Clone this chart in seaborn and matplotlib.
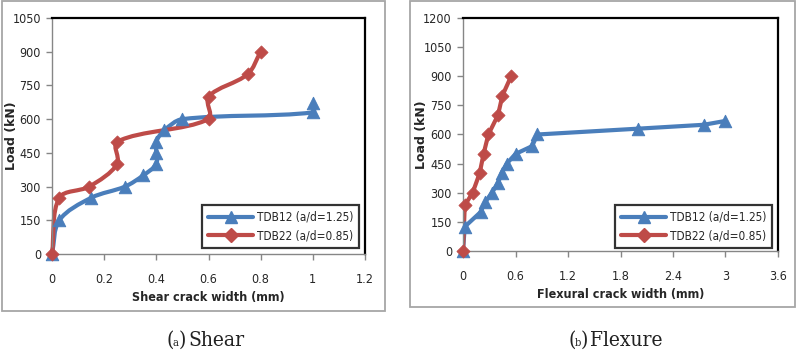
import matplotlib
matplotlib.use("Agg")
import matplotlib.pyplot as plt
import seaborn as sns
import numpy as np
from matplotlib.path import Path
from matplotlib.patches import PathPatch, Rectangle
from matplotlib.lines import Line2D

# SHEAR CRACK WIDTH (mm) vs LOAD (kN)
shear_tdb12_w = [0, 0.028, 0.15, 0.28, 0.35, 0.40, 0.40, 0.40, 0.43, 0.50, 1.0, 1.0]
shear_tdb12_load = [0, 150, 250, 300, 350, 400, 450, 500, 550, 600, 630, 670]
shear_tdb22_w = [0, 0.028, 0.143, 0.25, 0.25, 0.60, 0.60, 0.75, 0.80]
shear_tdb22_load = [0, 250, 300, 400, 500, 600, 700, 800, 900]

# FLEXURAL CRACK WIDTH (mm) vs LOAD (kN)
flex_tdb12_w = [0, 0.02, 0.2, 0.25, 0.33, 0.40, 0.44, 0.50, 0.60, 0.79, 0.85, 2.0, 2.75, 3.0]
flex_tdb12_load = [0, 125, 200, 250, 300, 350, 400, 450, 500, 540, 600, 630, 650, 670]
flex_tdb22_w = [0, 0.02, 0.11, 0.19, 0.235, 0.29, 0.40, 0.45, 0.55]
flex_tdb22_load = [0, 235, 300, 400, 500, 600, 700, 800, 900]

labels = ["TDB12 (a/d=1.25)", "TDB22 (a/d=0.85)"]
BLUE = "#4A7EBB"
RED = "#BE4B48"

sns.set_theme(style="white")
plt.rcParams["font.family"] = ["DejaVu Sans"]
plt.rcParams["font.stretch"] = "condensed"
FS = 9


def smooth_path(xs, ys, sx, sy):
    # excel-like smoothed line: chord-scaled catmull-rom -> cubic bezier
    # (sx, sy = data units -> approx pixels, only used for chord lengths)
    p = np.column_stack([xs, ys]).astype(float)
    ext = np.vstack([p[0], p, p[-1]])
    scale = np.array([sx, sy])
    dist = lambda a, b: np.hypot(*((b - a) * scale)) + 1e-9
    verts, codes = [p[0]], [Path.MOVETO]
    for i in range(len(p) - 1):
        p0, p1, p2, p3 = ext[i], ext[i + 1], ext[i + 2], ext[i + 3]
        d01, d12, d23 = dist(p0, p1), dist(p1, p2), dist(p2, p3)
        c1 = p1 + (p2 - p0) * d12 / (d01 + d12) / 3
        c2 = p2 - (p3 - p1) * d12 / (d12 + d23) / 3
        verts += [c1, c2, p2]
        codes += [Path.CURVE4] * 3
    return Path(verts, codes)


def style_axes(ax, xmax, xstep, ymax, ystep, xlabel, ylab_x):
    ax.set_xlim(0, xmax)
    ax.set_ylim(0, ymax)
    xt = np.round(np.arange(0, xmax + xstep / 2, xstep), 2)
    yt = np.arange(0, ymax + ystep / 2, ystep)
    ax.set_xticks(xt)
    ax.set_xticklabels([f"{v:g}" for v in xt])
    ax.set_yticks(yt)
    ax.set_yticklabels([f"{v:g}" for v in yt])
    ax.tick_params(axis="x", direction="out", length=4, width=1, color="#868686",
                   labelsize=FS, pad=10, bottom=True)
    ax.tick_params(axis="y", direction="out", length=4, width=1, color="#868686",
                   labelsize=FS, pad=4, left=True)
    for s in ["left", "bottom"]:
        ax.spines[s].set_color("#868686")
        ax.spines[s].set_linewidth(1)
    for s in ["top", "right"]:
        ax.spines[s].set_color("black")
        ax.spines[s].set_linewidth(1.6)
    ax.set_xlabel(xlabel, fontsize=9, fontweight="bold", labelpad=3)
    ax.set_ylabel("Load (kN)", fontsize=9, fontweight="bold", fontstretch="normal")
    ax.yaxis.set_label_coords(ylab_x, 0.5)
    ax.grid(False)


def add_legend(ax, anchor):
    handles = [
        Line2D([], [], color=BLUE, lw=3, marker="^", markersize=9),
        Line2D([], [], color=RED, lw=3, marker="D", markersize=7),
    ]
    leg = ax.legend(handles, labels, loc="lower right", bbox_to_anchor=anchor,
                    fontsize=8.5, frameon=True, fancybox=False, handlelength=3.8,
                    borderpad=0.5, labelspacing=0.45, handletextpad=0.3,
                    borderaxespad=0)
    leg.get_frame().set_edgecolor("black")
    leg.get_frame().set_linewidth(1.6)


fig = plt.figure(figsize=(8, 3.52), dpi=100)
ax1 = fig.add_axes([52 / 800, 1 - 254 / 352, 313 / 800, 236 / 352])
ax2 = fig.add_axes([463 / 800, 1 - 251 / 352, 315 / 800, 233 / 352])

# SHEAR (smoothed lines)
for xs, ys, c, m, s in [(shear_tdb12_w, shear_tdb12_load, BLUE, "^", 80),
                        (shear_tdb22_w, shear_tdb22_load, RED, "D", 45)]:
    ax1.add_patch(PathPatch(smooth_path(xs, ys, 313 / 1.2, 236 / 1050),
                            facecolor="none", edgecolor=c, lw=3, zorder=2,
                            clip_on=False))
    sns.scatterplot(x=xs, y=ys, marker=m, s=s, color=c, edgecolor=c,
                    ax=ax1, zorder=3, clip_on=False, legend=False)
style_axes(ax1, 1.2, 0.2, 1050, 150, "Shear crack width (mm)", -0.109)
add_legend(ax1, (0.981, 0.025))

# FLEXURE (straight lines)
for xs, ys, c, m, s in [(flex_tdb12_w, flex_tdb12_load, BLUE, "^", 80),
                        (flex_tdb22_w, flex_tdb22_load, RED, "D", 45)]:
    sns.lineplot(x=xs, y=ys, sort=False, estimator=None, color=c, lw=3,
                 ax=ax2, zorder=2)
    sns.scatterplot(x=xs, y=ys, marker=m, s=s, color=c, edgecolor=c,
                    ax=ax2, zorder=3, clip_on=False, legend=False)
style_axes(ax2, 3.6, 0.6, 1200, 150, "Flexural crack width (mm)", -0.111)
add_legend(ax2, (0.981, 0.013))

# PANEL BORDERS
fig.add_artist(Rectangle((2 / 800, 1 - 311 / 352), 383 / 800, 310 / 352,
                         transform=fig.transFigure, fill=False,
                         edgecolor="#A6A6A6", lw=1.3))
fig.add_artist(Rectangle((410 / 800, 1 - 307 / 352), 385 / 800, 306 / 352,
                         transform=fig.transFigure, fill=False,
                         edgecolor="#A6A6A6", lw=1.3))

# CAPTIONS
cap = dict(family=["DejaVu Serif"], fontstretch="condensed", color="#222222",
           va="center", ha="left")
y_cap = 1 - 340 / 352
for x0, letter, word in [(166, "a", "Shear"), (568, "b", "Flexure")]:
    fig.text(x0 / 800, y_cap, "(", fontsize=15, **cap)
    fig.text((x0 + 6.5) / 800, y_cap - 0.008, letter, fontsize=8, **cap)
    fig.text((x0 + 13) / 800, y_cap, ")", fontsize=15, **cap)
    fig.text((x0 + 22) / 800, y_cap, word, fontsize=15, **cap)

fig.savefig("out.png", dpi=100)
